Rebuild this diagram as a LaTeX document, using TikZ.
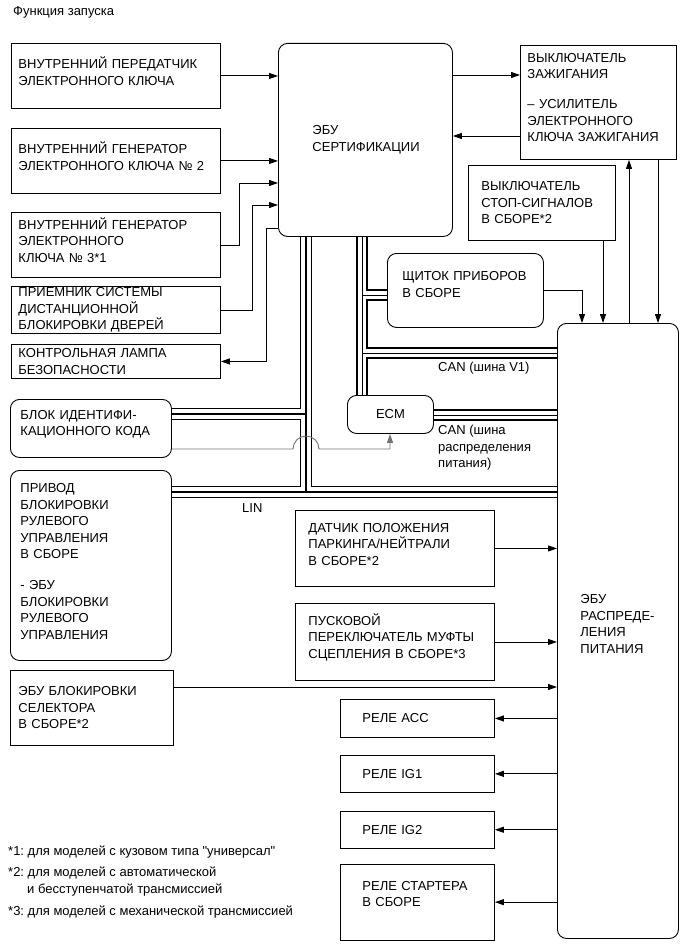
\documentclass[tikz,border=0pt]{standalone}
\usepackage{fontspec}
\setmainfont{Liberation Sans}
\usetikzlibrary{arrows.meta, positioning}
\newcommand\boxfont{\fontsize{13}{16.5}\selectfont}
\pgfdeclarelayer{bus}
\pgfsetlayers{bus,main}

\begin{document}
\frenchspacing
\begin{tikzpicture}[x=1pt, y=-1pt,
    box/.style={draw, line width=0.9pt, fill=white, anchor=north west, align=left,
                inner ysep=0pt, font=\boxfont},
    rbox/.style={box, rounded corners=9pt},
    arr/.style={line width=0.9pt, -{Triangle[length=9pt, width=6pt]}},
    gry/.style={arr, draw=black!55},
    lbl/.style={font=\boxfont, align=left, anchor=west, inner sep=0pt}
  ]
  \useasboundingbox (0,0) rectangle (690,952);

  \node[lbl] (title) at (13,12) {Функция запуска};

  % left column
  \node[box, text width=195pt, inner xsep=7pt, minimum height=65pt, text depth=26.5pt] (k1) at (11,43)
    {ВНУТРЕННИЙ ПЕРЕДАТЧИК\\ЭЛЕКТРОННОГО КЛЮЧА};
  \node[box, text width=195pt, inner xsep=7pt, minimum height=65pt, text depth=26.5pt] (k2) at (11,128)
    {ВНУТРЕННИЙ ГЕНЕРАТОР\\ЭЛЕКТРОННОГО КЛЮЧА № 2};
  \node[box, text width=195pt, inner xsep=7pt, minimum height=65pt, text depth=43pt] (k3) at (11,212)
    {ВНУТРЕННИЙ ГЕНЕРАТОР\\ЭЛЕКТРОННОГО\\КЛЮЧА № 3*1};
  \node[box, text width=195pt, inner xsep=7pt, minimum height=47pt] (k4) at (11,286)
    {ПРИЕМНИК СИСТЕМЫ\\ДИСТАНЦИОННОЙ\\БЛОКИРОВКИ ДВЕРЕЙ};
  \node[box, text width=195pt, inner xsep=7pt, minimum height=34pt] (k5) at (11,344)
    {КОНТРОЛЬНАЯ ЛАМПА\\БЕЗОПАСНОСТИ};
  \node[rbox, text width=141pt, inner xsep=10pt, minimum height=58pt, text depth=27pt] (idb) at (10,399)
    {БЛОК ИДЕНТИФИ-\\КАЦИОННОГО~КОДА};
  \node[rbox, text width=141pt, inner xsep=10pt, minimum height=190pt, text depth=154.5pt] (stl) at (10,470)
    {ПРИВОД\\БЛОКИРОВКИ\\РУЛЕВОГО\\УПРАВЛЕНИЯ\\В СБОРЕ\\[14.5pt]- ЭБУ\\БЛОКИРОВКИ\\РУЛЕВОГО\\УПРАВЛЕНИЯ};
  \node[box, text width=147pt, inner xsep=8pt, minimum height=75pt] (sel) at (10,670)
    {ЭБУ БЛОКИРОВКИ\\СЕЛЕКТОРА\\В СБОРЕ*2};

  % middle and right
  \node[rbox, text width=106pt, inner xsep=34pt, minimum height=193pt] (sert) at (278,43)
    {ЭБУ\\СЕРТИФИКАЦИИ};
  \node[box, text width=142pt, inner xsep=7pt, minimum height=114pt, text depth=89.5pt] (ign) at (520,45)
    {ВЫКЛЮЧАТЕЛЬ\\ЗАЖИГАНИЯ\\[13.5pt]– УСИЛИТЕЛЬ\\ЭЛЕКТРОННОГО\\КЛЮЧА~ЗАЖИГАНИЯ};
  \node[box, text width=121pt, inner xsep=13pt, minimum height=75pt] (stp) at (468,165)
    {ВЫКЛЮЧАТЕЛЬ\\СТОП-СИГНАЛОВ\\В СБОРЕ*2};
  \node[rbox, text width=126pt, inner xsep=15pt, minimum height=74pt, text depth=28.5pt] (pnl) at (387,253)
    {ЩИТОК~ПРИБОРОВ\\В СБОРЕ};
  \node[rbox, minimum width=86pt, minimum height=38pt, align=center] (ecm) at (347,395) {ECM};
  \node[rbox, text width=75pt, inner xsep=23pt, minimum height=615pt, text depth=63.5pt] (pwr) at (557,323)
    {ЭБУ\\РАСПРЕДЕ-\\ЛЕНИЯ\\ПИТАНИЯ};
  \node[box, text width=173pt, inner xsep=13pt, minimum height=76pt, text depth=41pt] (park) at (295,510)
    {ДАТЧИК ПОЛОЖЕНИЯ\\ПАРКИНГА/НЕЙТРАЛИ\\В СБОРЕ*2};
  \node[box, text width=173pt, inner xsep=13pt, minimum height=77pt, text depth=45.5pt] (clt) at (295,603)
    {ПУСКОВОЙ\\ПЕРЕКЛЮЧАТЕЛЬ~МУФТЫ\\СЦЕПЛЕНИЯ~В~СБОРЕ*3};
  \node[box, text width=110pt, inner xsep=22pt, minimum height=38pt] (acc) at (340,699) {РЕЛЕ ACC};
  \node[box, text width=110pt, inner xsep=22pt, minimum height=37pt, below=17pt of acc] (ig1) {РЕЛЕ IG1};
  \node[box, text width=110pt, inner xsep=22pt, minimum height=37pt, below=18pt of ig1] (ig2) {РЕЛЕ IG2};
  \node[box, text width=110pt, inner xsep=22pt, minimum height=76pt, text depth=32.5pt, below=15pt of ig2] (str)
    {РЕЛЕ~СТАРТЕРА\\В СБОРЕ};

  % bus labels
  \node[lbl] (canv) at (438,368) {CAN (шина V1)};
  \node[lbl] (canp) at (438,448) {CAN (шина\\распределения\\питания)};
  \node[lbl] (lin) at (242,508) {LIN};

  % notes
  \node[lbl] (n1) at (8,852) {*1: для моделей с кузовом типа \textquotedbl универсал\textquotedbl};
  \node[lbl, anchor=north west] (n2) at (8,867)
    {*2: для моделей с автоматической\\\hspace*{19pt}и бесступенчатой трансмиссией};
  \node[lbl] (n3) at (8,912) {*3: для моделей с механической трансмиссией};

  % buses
  \begin{pgfonlayer}{bus}
    \foreach \lw/\cl in {12pt/black, 8pt/white, 0.8pt/black}{
      \draw[line width=\lw, draw=\cl]
        (sert.south -| 362,0) -- (ecm.north -| 362,0)
        (362,295) -- (pnl.west |- 0,295)
        (362,353) -- (pwr.west |- 0,353)
        (ecm.east |- 0,415) -- (pwr.west |- 0,415);
    }
    \foreach \lw/\cl in {11.8pt/black, 10.2pt/white, 1.8pt/black}{
      \draw[line width=\lw, draw=\cl]
        (sert.south -| 306,0) -- (306,492)
        (306,414) -- (idb.east |- 0,414)
        (stl.east |- 0,492) -- (pwr.west |- 0,492);
    }
  \end{pgfonlayer}

  % signals
  \draw[arr] (k1.east) -- (k1.east -| sert.west);
  \draw[arr] (k2.east) -- (k2.east -| sert.west);
  \draw[arr] (k3.east) -- ++(19,0) |- (sert.west |- 0,183);
  \draw[arr] (k4.east) -- ++(32,0) |- (sert.west |- 0,205);
  \draw[arr] (sert.west |- 0,228) -- ++(-12,0) |- (k5.east);
  \draw[arr] (sert.east |- 0,75) -- (ign.west |- 0,75);
  \draw[arr] (ign.west |- 0,136) -- (sert.east |- 0,136);
  \draw[arr] (pwr.north -| 629,0) -- (ign.south -| 629,0);
  \draw[arr] (ign.south -| 658,0) -- (pwr.north -| 658,0);
  \draw[arr] (stp.south -| 603,0) -- (pwr.north -| 603,0);
  \draw[arr] (pnl.east) -| (pwr.north -| 582,0);
  \draw[arr] (park.east) -- (park.east -| pwr.west);
  \draw[arr] (clt.east) -- (clt.east -| pwr.west);
  \draw[arr] (sel.east |- 0,687) -- (pwr.west |- 0,687);
  \foreach \r in {acc, ig1, ig2, str}
    \draw[arr] (\r.east -| pwr.west) -- (\r.east);
  \draw[gry] (idb.east |- 0,449) -- (293,449) arc[start angle=180, end angle=0, radius=13pt]
    -- (390,449) -- (ecm.south -| 390,0);
\end{tikzpicture}
\end{document}
